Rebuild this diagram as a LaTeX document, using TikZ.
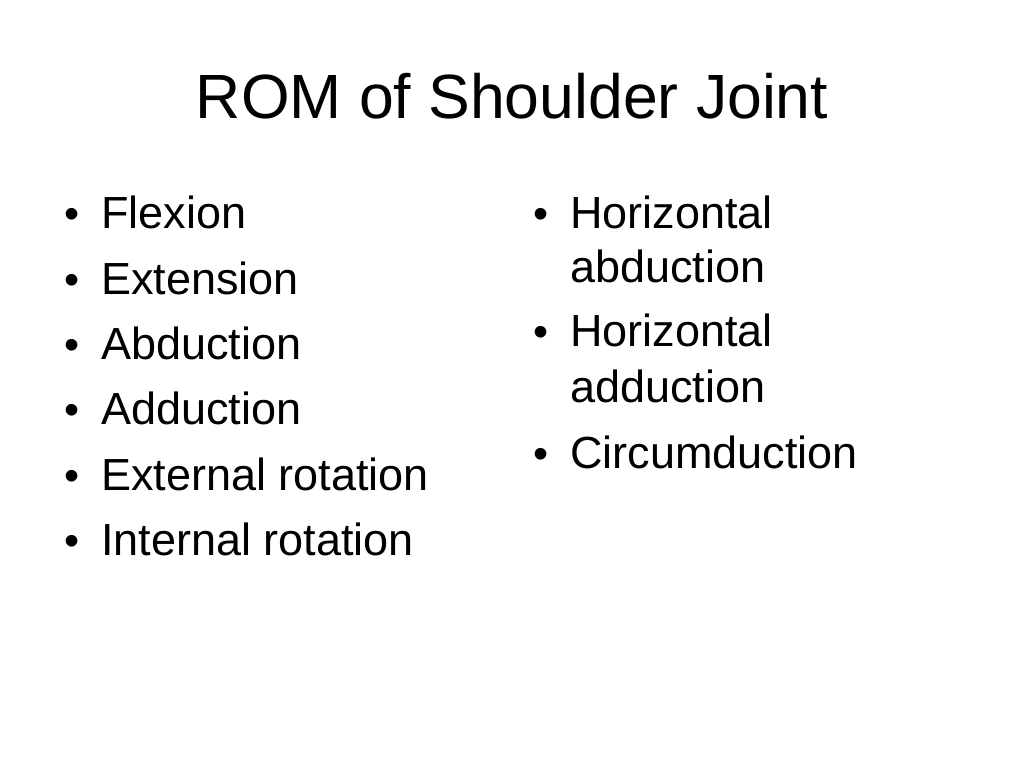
\documentclass[tikz,border=0pt]{standalone}
\usepackage{fontspec}
\setmainfont{Liberation Sans}
\begin{document}
\begin{tikzpicture}[x=1pt,y=-1pt,
  title/.style={anchor=base,inner sep=0pt,font=\fontsize{62.5}{70}\selectfont},
  item/.style={anchor=base west,inner sep=0pt,font=\fontsize{45}{52}\selectfont},
  bul/.style={anchor=base west,inner sep=0pt,font=\fontsize{43}{48}\selectfont}]
\useasboundingbox[fill=white] (0,0) rectangle (1024,768);
\node[title] (t) at (512,118) {ROM of Shoulder Joint};
\foreach \y/\txt [count=\i] in {228/Flexion,294/Extension,359/Abduction,424/Adduction,490/External rotation,555/Internal rotation}{
  \node[bul] (lb\i) at (64.5,\y) {•};
  \node[item] (l\i) at (101,\y) {\txt};
}
\node[bul] (rb1) at (533.5,228) {•};
\node[item] (r1a) at (570,228) {Horizontal};
\node[item] (r1b) at (570,282) {abduction};
\node[bul] (rb2) at (533.5,346) {•};
\node[item] (r2a) at (570,346) {Horizontal};
\node[item] (r2b) at (570,402) {adduction};
\node[bul] (rb3) at (533.5,468) {•};
\node[item] (r3) at (570,468) {Circumduction};
\end{tikzpicture}
\end{document}
